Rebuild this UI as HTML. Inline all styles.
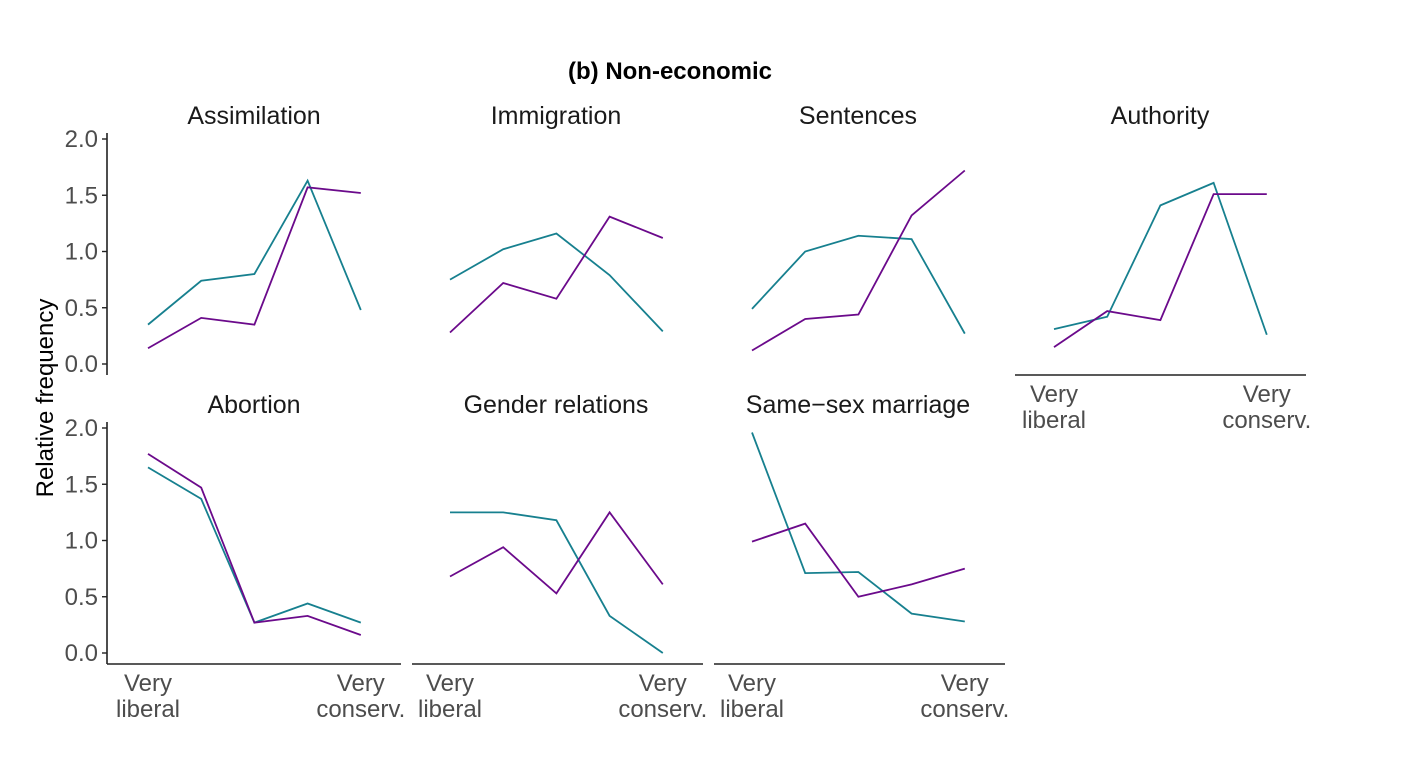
<!DOCTYPE html>
<html><head><meta charset="utf-8"><style>
html,body{margin:0;padding:0;background:#fff;}
svg{display:block;font-family:"Liberation Sans",sans-serif;}
</style></head><body>
<svg id="chart" width="1426" height="760" viewBox="0 0 1426 760"></svg>
<script>
const panels = ["Assimilation","Immigration","Sentences","Authority","Abortion","Gender relations","Same\u2212sex marriage"];
const tealSeries = [
 [0.35,0.74,0.80,1.63,0.48],
 [0.75,1.02,1.16,0.79,0.29],
 [0.49,1.00,1.14,1.11,0.27],
 [0.31,0.42,1.41,1.61,0.26],
 [1.65,1.37,0.27,0.44,0.27],
 [1.25,1.25,1.18,0.33,0.00],
 [1.96,0.71,0.72,0.35,0.28]
];
const purpleSeries = [
 [0.14,0.41,0.35,1.57,1.52],
 [0.28,0.72,0.58,1.31,1.12],
 [0.12,0.40,0.44,1.32,1.72],
 [0.15,0.47,0.39,1.51,1.51],
 [1.77,1.47,0.27,0.33,0.16],
 [0.68,0.94,0.53,1.25,0.61],
 [0.99,1.15,0.50,0.61,0.75]
];
const yTicks = [0,0.5,1.0,1.5,2.0];
const yTickLabels = ["0.0","0.5","1.0","1.5","2.0"];
const categories = [1,2,3,4,5];

const svg = document.getElementById('chart');
const NS = 'http://www.w3.org/2000/svg';
function mk(tag, attrs, parent){const e=document.createElementNS(NS,tag);for(const k in attrs)e.setAttribute(k,attrs[k]);(parent||svg).appendChild(e);return e;}

const t = mk('text',{x:670,y:79,'text-anchor':'middle','font-size':24,'font-weight':'bold',fill:'#000'});


t.textContent='(b) Non-economic';

const yt = mk('text',{x:0,y:0,'text-anchor':'middle','font-size':24,fill:'#000',transform:'translate(53,398) rotate(-90)'});


yt.textContent='Relative frequency';

function layout(i){
  const row = i<4?0:1, col = i<4?i:i-4;
  const left = 107 + col*302;
  return {row,col,left,y0: row===0?364:653};
}
panels.forEach((name,i)=>{
  const L = layout(i);
  const g = mk('g',{});
  
  
  const xs = c => L.left + 41 + (c-1)*53.2;
  const ys = v => L.y0 - v*112.5;
  const title = mk('text',{x:L.left+147,y:L.y0-240,'text-anchor':'middle','font-size':25,fill:'#1a1a1a'},g);
  
  
  title.textContent=name;
  const hasY = L.col===0;
  const hasX = L.row===1 || i===3;
  if(hasY){
    const ax = mk('line',{x1:L.left,x2:L.left,y1:L.y0-231,y2:L.y0+11,stroke:'#222','stroke-width':1.6},g);
    
    
    yTicks.forEach((v,k)=>{
      const tk = mk('line',{x1:L.left-5,x2:L.left,y1:ys(v),y2:ys(v),stroke:'#222','stroke-width':1.4},g);
      
      
      const tl = mk('text',{x:L.left-9,y:ys(v)+8,'text-anchor':'end','font-size':24,fill:'#4d4d4d'},g);
      
      
      tl.textContent=yTickLabels[k];
    });
  }
  if(hasX){
    const xl = L.left + (L.col===3?-1:0);
    const ax = mk('line',{x1:xl+ (L.col===0?0:3),x2:xl+294,y1:L.y0+11,y2:L.y0+11,stroke:'#222','stroke-width':1.6},g);
    
    
    [[1,'Very','liberal'],[5,'Very','conserv.']].forEach(([c,a,b])=>{
      const tx = mk('text',{x:xs(c),y:L.y0+38,'text-anchor':'middle','font-size':24,fill:'#4d4d4d'},g);
      
      
      const s1 = mk('tspan',{x:xs(c),dy:0},tx); s1.textContent=a;
      const s2 = mk('tspan',{x:xs(c),dy:26},tx); s2.textContent=b;
    });
  }
  const tp = mk('polyline',{points:categories.map((c,k)=>xs(c)+','+ys(tealSeries[i][k])).join(' '),fill:'none',stroke:'#17808f','stroke-width':1.8},g);
  
  
  const pp = mk('polyline',{points:categories.map((c,k)=>xs(c)+','+ys(purpleSeries[i][k])).join(' '),fill:'none',stroke:'#6b0a8b','stroke-width':1.8},g);
  
  
});
</script>
</body></html>
